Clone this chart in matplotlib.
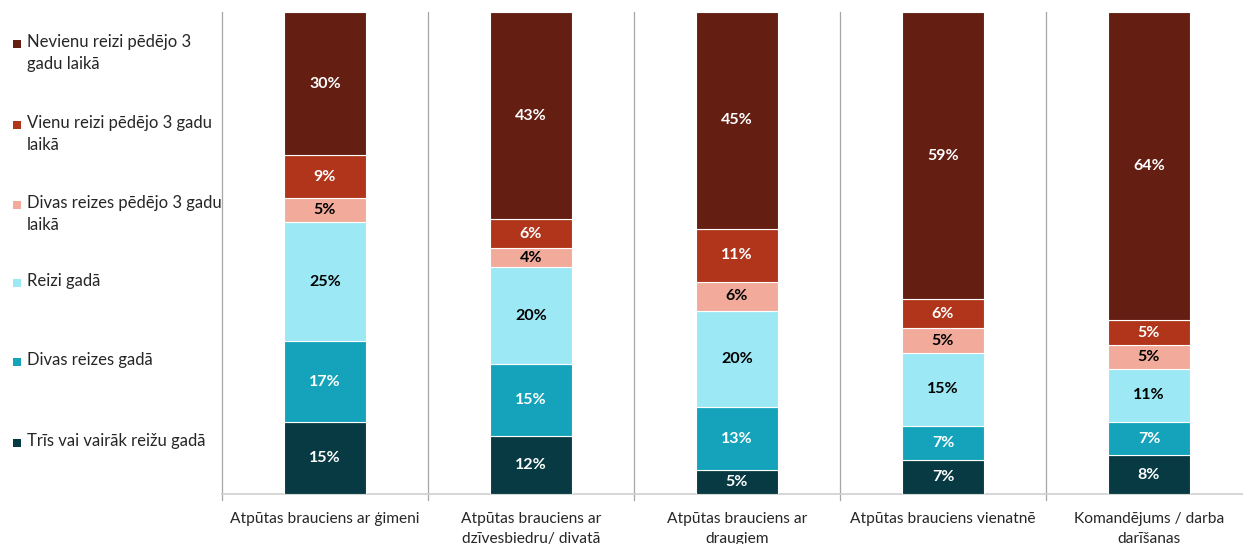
import matplotlib.pyplot as plt
import numpy as np

plt.rcParams['font.family'] = ['Lato', 'DejaVu Sans']

# Daten
kategorijas = ["Atpūtas brauciens ar ģimeni",
               "Atpūtas brauciens ar\ndzīvesbiedru/ divatā",
               "Atpūtas brauciens ar\ndraugiem",
               "Atpūtas brauciens vienatnē",
               "Komandējums / darba\ndarīšanas"]

sērijas = ["Trīs vai vairāk reižu gadā",
           "Divas reizes gadā",
           "Reizi gadā",
           "Divas reizes pēdējo 3 gadu\nlaikā",
           "Vienu reizi pēdējo 3 gadu\nlaikā",
           "Nevienu reizi pēdējo 3\ngadu laikā"]

tris_vai_vairak = [15, 12, 5, 7, 8]
divas_gada = [17, 15, 13, 7, 7]
reizi_gada = [25, 20, 20, 15, 11]
divas_3_gados = [5, 4, 6, 5, 5]
vienu_3_gados = [9, 6, 11, 6, 5]
nevienu_3_gados = [30, 43, 45, 59, 64]

krasas = ['#073A42', '#14A3BA', '#9CE8F5', '#F2AB9B', '#B1351B', '#641E12']
teksta_krasas = ['white', 'white', 'black', 'black', 'white', 'white']

dati = np.array([tris_vai_vairak, divas_gada, reizi_gada,
                 divas_3_gados, vienu_3_gados, nevienu_3_gados], dtype=float)
summas = dati.sum(axis=0)
dala = dati / summas * 100  # 100% stacked

fig = plt.figure(figsize=(12.43, 5.44), dpi=100)
ax = fig.add_axes([222/1243, 50/544, 1030/1243, 482/544])

x = np.arange(len(kategorijas))
apaksa = np.zeros(len(kategorijas))
for i in range(len(sērijas)):
    ax.bar(x, dala[i], bottom=apaksa, width=0.4, color=krasas[i],
           edgecolor='white', linewidth=0.8, zorder=3)
    for j in range(len(kategorijas)):
        ax.text(x[j], apaksa[j] + dala[i][j] / 2, f"{int(dati[i][j])}%",
                ha='center', va='center', fontsize=11.5, fontweight='bold',
                color=teksta_krasas[i], zorder=4)
    apaksa += dala[i]

ax.set_xlim(-0.5, len(kategorijas) - 0.5)
ax.set_ylim(0, 100)

# Atdalītāji
for p in np.arange(-0.5, len(kategorijas), 1.0):
    ax.plot([p, p], [-1.3, 100], color='#A6A6A6', linewidth=0.9,
            clip_on=False, zorder=1)

for s in ['top', 'right', 'left']:
    ax.spines[s].set_visible(False)
ax.spines['bottom'].set_color('#D0D0D0')
ax.spines['bottom'].set_linewidth(1.2)

ax.set_yticks([])
ax.set_xticks(x)
ax.set_xticklabels(kategorijas, fontsize=11.2, color='#262626', linespacing=1.5)
ax.tick_params(axis='x', length=0, pad=13)
for lbl in ax.get_xticklabels():
    lbl.set_verticalalignment('top')

# Leģenda (manuāli, kreisajā pusē)
leg_y = [44, 125, 205, 283, 362, 443]
for k, i in enumerate(range(len(sērijas) - 1, -1, -1)):
    yy = 1 - leg_y[k] / 544
    fig.patches.append(plt.Rectangle((13/1243, yy - 4/544), 8/1243, 8/544,
                                     transform=fig.transFigure,
                                     facecolor=krasas[i], edgecolor='none'))
    fig.text(27/1243, yy + 10/544, sērijas[i], ha='left', va='top',
             fontsize=12, color='#262626', linespacing=1.45)

plt.savefig('out.png', dpi=100)
